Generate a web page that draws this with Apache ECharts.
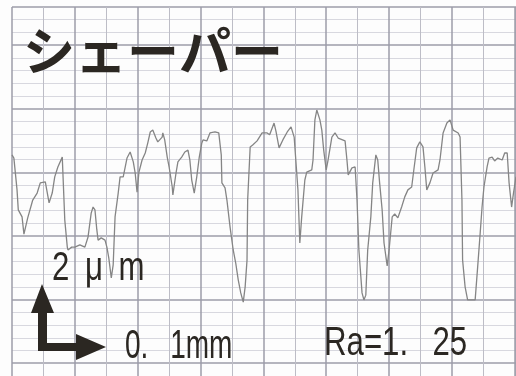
<!DOCTYPE html>
<html>
<head>
<meta charset="utf-8">
<script src="https://cdn.jsdelivr.net/npm/echarts@6/dist/echarts.min.js"></script>
<style>
html,body{margin:0;padding:0;background:#fdfdfd;}
#c{width:516px;height:376px;}
</style>
</head>
<body>
<div id="c"></div>
<script>
// Surface profile trace (shaper), x in micrometres along the surface, y in micrometres height
const xUm = [0,3,8,10,16,19,25,33,40,45,53,56,59,64,68,73,80,81,84,88,89,95,100,108,116,121,126,129,132,135,137,142,145,148,151,154,158,161,164,169,172,177,183,188,193,196,199,202,207,212,216,220,224,229,232,239,240,243,247,250,255,256,261,264,270,275,280,283,286,290,294,298,302,304,310,315,323,329,333,334,339,342,347,352,356,360,364,368,371,374,375,379,383,390,398,406,410,417,420,425,431,438,444,449,452,455,458,461,466,469,477,479,482,485,490,493,496,500,503,509,514,519,530,533,535,541,546,549,552,557,560,563,566,571,574,579,582,585,589,592,597,600,605,609,614,620,625,630,636,640,644,649,654,657,660,665,670,678,681,686,692,697,702,710,713,716,717,721,725,737,741,745,748,751,756,759,764,768,773,780,784,788,791,795,798,802];
const yUm = [2.55,2.45,1.45,0.82,0.60,0.06,0.57,1.13,1.35,1.67,1.70,1.64,1.04,1.35,1.86,2.17,2.48,1.98,0.50,-0.35,-0.44,-0.35,-0.35,-0.28,-0.35,-0.03,0.72,0.91,0.82,0.19,-0.13,-0.06,-0.03,-0.13,-0.35,-0.69,-1.32,-0.91,0.60,1.35,1.86,1.86,2.45,2.64,2.33,1.98,1.38,2.01,2.39,2.61,2.92,3.27,3.33,3.08,2.96,3.11,3.24,3.02,2.48,2.17,1.54,1.29,1.98,2.33,2.48,2.64,2.70,2.39,1.76,1.35,1.86,2.48,2.92,3.02,2.99,3.24,3.27,3.24,2.55,1.67,1.51,1.13,0.28,-0.44,-0.85,-1.38,-1.79,-2.08,-1.60,-0.75,1.13,2.80,2.86,2.99,3.24,3.24,3.18,3.55,3.30,2.77,3.02,3.27,3.43,3.11,3.08,1.45,-0.22,0.60,1.76,2.01,2.08,2.39,3.65,3.96,3.65,3.33,2.70,2.08,2.39,3.11,3.24,3.08,2.99,2.39,1.92,2.14,2.17,1.13,-0.44,-1.79,-2.01,-1.86,-0.44,0.60,1.67,2.55,2.39,1.67,0.82,-0.22,-0.94,-0.44,0.60,0.69,0.57,0.91,1.23,1.45,1.54,2.17,2.77,2.96,2.80,2.17,1.45,1.67,1.98,2.08,2.39,3.24,3.55,3.65,3.33,3.24,3.11,1.13,-0.75,-1.60,-2.01,-2.01,-0.97,0.09,0.91,1.54,2.17,2.45,2.48,2.36,2.45,2.39,2.61,2.61,1.67,0.91,1.35,1.86];

const titleText = 'シェーパー';
const yScaleText = '2\u2002μ\u2002m';
const xScaleText = '0.\u2002 1mm';
const raText = 'Ra=1.\u2002 25';

const ink = '#2b2722';
const chart = echarts.init(document.getElementById('c'), null, {renderer: 'canvas'});
const data = xUm.map((x, i) => [x, yUm[i]]);

chart.setOption({
  backgroundColor: '#fdfdfd',
  animation: false,
  grid: {left: 12, top: 7, width: 504, height: 419.8, containLabel: false, outerBoundsMode: 'none'},
  xAxis: {
    type: 'value', min: 0, max: 802, interval: 100,
    axisLine: {show: false}, axisTick: {show: false}, axisLabel: {show: false},
    splitLine: {show: true, lineStyle: {color: '#9c9ca8', width: 1.5}},
    minorTick: {show: false, splitNumber: 2},
    minorSplitLine: {show: true, lineStyle: {color: '#bdbdc6', width: 1}}
  },
  yAxis: {
    type: 'value', min: -6, max: 7.2, interval: 2,
    axisLine: {show: false}, axisTick: {show: false}, axisLabel: {show: false},
    splitLine: {show: true, lineStyle: {color: '#9c9ca8', width: 1.5}},
    minorTick: {show: false, splitNumber: 5},
    minorSplitLine: {show: true, lineStyle: {color: '#d8d8df', width: 1}}
  },
  series: [{
    type: 'line', data: data, showSymbol: false, smooth: false,
    lineStyle: {color: '#858585', width: 1.3}, z: 3, silent: true
  }],
  graphic: [
    {type: 'text', x: 23, y: 51, z: 100,
     style: {text: titleText, fontFamily: '"Noto Sans CJK JP"', fontWeight: 'bold', fontSize: 52,
             fill: ink, align: 'left', verticalAlign: 'middle'}},
    {type: 'text', x: 52, y: 269, z: 100, scaleX: 0.78,
     style: {text: yScaleText, fontFamily: '"Liberation Sans"', fontSize: 40,
             fill: ink, align: 'left', verticalAlign: 'middle'}},
    {type: 'text', x: 125, y: 347, z: 100, scaleX: 0.7,
     style: {text: xScaleText, fontFamily: '"Liberation Sans"', fontSize: 40,
             fill: ink, align: 'left', verticalAlign: 'middle'}},
    {type: 'text', x: 324, y: 344, z: 100, scaleX: 0.78,
     style: {text: raText, fontFamily: '"Liberation Sans"', fontSize: 40,
             fill: ink, align: 'left', verticalAlign: 'middle'}},
    {type: 'polygon', z: 100,
     shape: {points: [[42,284],[54,313],[47,313],[47,343],[76,343],[76,334],[106,347],[76,360],[76,351],[38,351],[38,313],[31,313]]},
     style: {fill: ink}}
  ]
});
</script>
</body>
</html>
